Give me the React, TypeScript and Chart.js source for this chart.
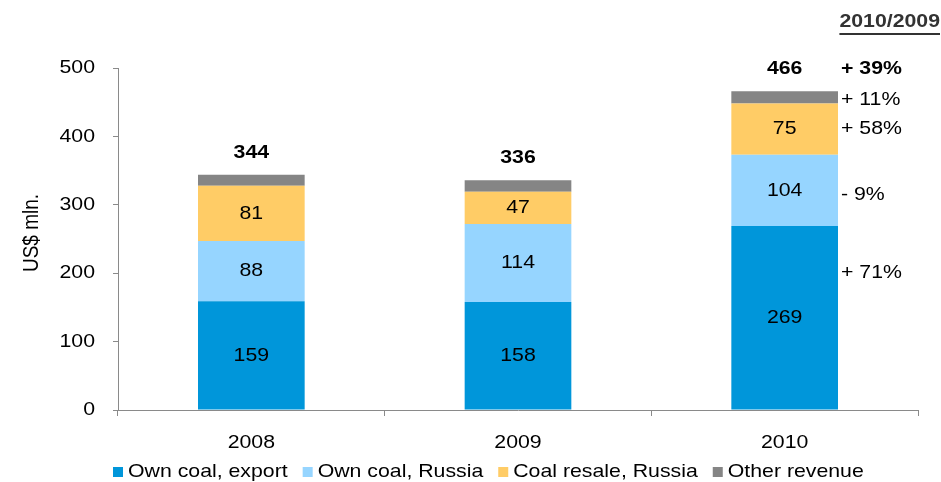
import React, { useEffect, useRef } from 'react';
import { Chart, registerables } from 'chart.js';

Chart.register(...registerables);

// ---------- data ----------
const categories = ['2008', '2009', '2010'];
const seriesNames = ['Own coal, export', 'Own coal, Russia', 'Coal resale, Russia', 'Other revenue'];
const ownCoalExport = [159, 158, 269];
const ownCoalRussia = [88, 114, 104];
const coalResaleRussia = [81, 47, 75];
const otherRevenue = [16, 17, 18];
const totals = [344, 336, 466];
const yTickValues = [0, 100, 200, 300, 400, 500];
const yAxisTitle = 'US$ mln.';
const growthHeader = '2010/2009';
const growthTotal = '+ 39%';
const growthBySeries = ['+ 71%', '- 9%', '+ 58%', '+ 11%'];
const showSegmentLabel = [true, true, true, false];

// ---------- style ----------
const COLORS = ['#0096DA', '#96D5FF', '#FFCC66', '#858585'];
const AXIS_COLOR = '#8a8a8a';
const FONT_FAMILY = '"Liberation Sans", Arial, Helvetica, sans-serif';
const FONT_SIZE = 19;
const STRETCH = 1.12;
const GROWTH_NUDGE = [-45, 4, 0, 2];

function drawText(
  ctx: CanvasRenderingContext2D,
  text: string,
  x: number,
  y: number,
  align: CanvasTextAlign = 'center',
  bold = false,
  color = '#000'
): number {
  ctx.save();
  ctx.font = `${bold ? 'bold ' : ''}${FONT_SIZE}px ${FONT_FAMILY}`;
  ctx.fillStyle = color;
  ctx.textAlign = align;
  ctx.textBaseline = 'middle';
  ctx.translate(x, y);
  ctx.scale(STRETCH, 1);
  ctx.fillText(text, 0, 0);
  const w = ctx.measureText(text).width * STRETCH;
  ctx.restore();
  return w;
}

const textPlugin = {
  id: 'customText',
  afterDraw(chart: any) {
    const ctx: CanvasRenderingContext2D = chart.ctx;
    const xs = chart.scales.x;
    const ys = chart.scales.y;
    const area = chart.chartArea;

    // y tick labels
    yTickValues.forEach((v) => {
      drawText(ctx, String(v), area.left - 23, ys.getPixelForValue(v), 'right');
    });

    // y title
    ctx.save();
    ctx.font = `${FONT_SIZE}px ${FONT_FAMILY}`;
    ctx.fillStyle = '#000';
    ctx.textAlign = 'center';
    ctx.textBaseline = 'middle';
    ctx.translate(32, (area.top + area.bottom) / 2 - 6);
    ctx.rotate(-Math.PI / 2);
    ctx.scale(1, STRETCH);
    ctx.fillText(yAxisTitle, 0, 0);
    ctx.restore();

    // x labels
    categories.forEach((c, i) => {
      drawText(ctx, c, xs.getPixelForValue(i), area.bottom + 33, 'center');
    });

    // segment labels
    chart.data.datasets.forEach((ds: any, d: number) => {
      if (!showSegmentLabel[d]) return;
      const meta = chart.getDatasetMeta(d);
      meta.data.forEach((bar: any, i: number) => {
        const yc = (bar.y + bar.base) / 2;
        drawText(ctx, String(ds.data[i]), bar.x, yc, 'center');
      });
    });

    // totals
    const meta0 = chart.getDatasetMeta(0);
    totals.forEach((t, i) => {
      const bar = meta0.data[i];
      drawText(ctx, String(t), bar.x, ys.getPixelForValue(t) - 22, 'center', true);
    });

    // growth labels on the right of last bar
    const last = categories.length - 1;
    const lastBar = meta0.data[last];
    const gx = lastBar.x + lastBar.width / 2 + 3;
    drawText(ctx, growthTotal, gx, ys.getPixelForValue(totals[last]) - 22, 'left', true);
    growthBySeries.forEach((g, d) => {
      const bar = chart.getDatasetMeta(d).data[last];
      const yc = (bar.y + bar.base) / 2 + GROWTH_NUDGE[d];
      drawText(ctx, g, gx, yc, 'left');
    });

    // header
    const hw = drawText(ctx, growthHeader, 940, 22, 'right', true, '#333');
    ctx.save();
    ctx.fillStyle = '#333';
    ctx.fillRect(940 - hw, 33, hw, 2);
    ctx.restore();

    // legend
    let lx = 113;
    const ly = 472;
    chart.data.datasets.forEach((ds: any, d: number) => {
      ctx.save();
      ctx.fillStyle = COLORS[d];
      ctx.fillRect(lx, ly - 5, 10, 10);
      ctx.restore();
      const w = drawText(ctx, seriesNames[d], lx + 15, ly, 'left');
      lx += 15 + w + 15;
    });
  },
};

export default function App() {
  const canvasRef = useRef<HTMLCanvasElement | null>(null);

  useEffect(() => {
    if (!canvasRef.current) return;
    const seriesData = [ownCoalExport, ownCoalRussia, coalResaleRussia, otherRevenue];
    const chart = new Chart(canvasRef.current, {
      type: 'bar',
      data: {
        labels: categories,
        datasets: seriesData.map((data, d) => ({
          label: seriesNames[d],
          data,
          backgroundColor: COLORS[d],
          borderWidth: 0,
          barPercentage: 0.4,
          categoryPercentage: 1,
          stack: 'total',
        })),
      },
      options: {
        responsive: false,
        animation: false,
        devicePixelRatio: 1,
        layout: { padding: { left: 0, right: 23, top: 68, bottom: 0 } },
        plugins: { legend: { display: false }, tooltip: { enabled: false } },
        scales: {
          x: {
            stacked: true,
            grid: { drawOnChartArea: false, tickLength: 6, color: AXIS_COLOR, offset: true },
            border: { color: AXIS_COLOR },
            ticks: { display: false },
            afterFit: (s: any) => {
              s.height = 72;
            },
          },
          y: {
            stacked: true,
            min: 0,
            max: 500,
            ticks: { display: false, stepSize: 100 },
            grid: { drawOnChartArea: false, tickLength: 5, color: AXIS_COLOR },
            border: { color: AXIS_COLOR },
            afterFit: (s: any) => {
              s.width = 118;
            },
          },
        },
      } as any,
      plugins: [textPlugin],
    });
    return () => chart.destroy();
  }, []);

  return (
    <div style={{ position: 'absolute', left: 0, top: 0, width: 941, height: 482, background: '#fff' }}>
      <canvas ref={canvasRef} width={941} height={482} style={{ display: 'block' }} />
    </div>
  );
}
